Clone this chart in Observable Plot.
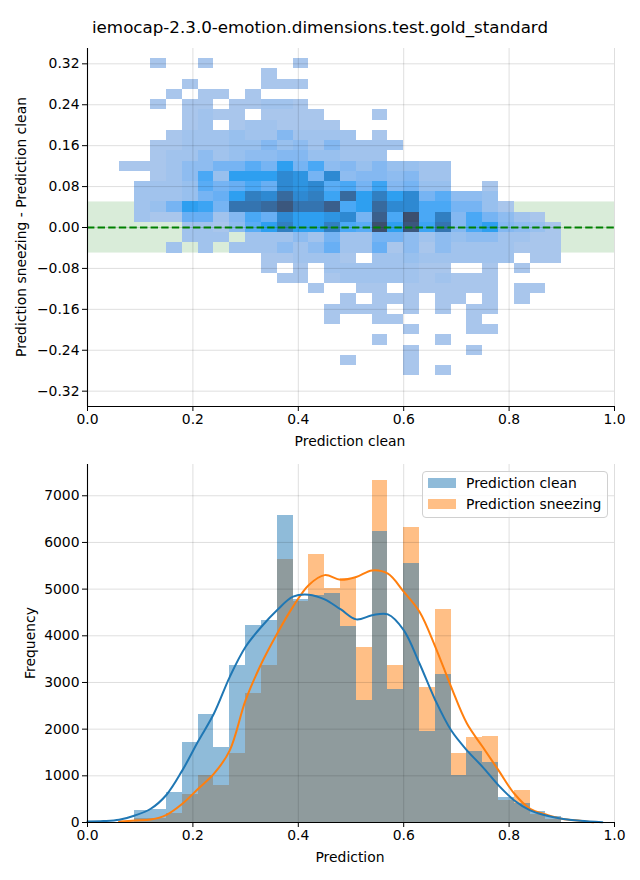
<!DOCTYPE html>
<html><head><meta charset="utf-8">
<script src="https://cdn.jsdelivr.net/npm/d3@7"></script>
<script src="https://cdn.jsdelivr.net/npm/@observablehq/plot@0.6"></script>
<style>
body{margin:0;background:#fff;font-family:"DejaVu Sans",sans-serif;}
#wrap{position:relative;width:640px;height:880px;overflow:hidden;}
.lbl{position:absolute;white-space:nowrap;color:#000;transform:translate(-50%,-50%);}
.legend{position:absolute;border:1px solid #d0d0d0;border-radius:4px;background:rgba(255,255,255,0.8);box-sizing:border-box;}
.legrow{position:absolute;left:5px;display:flex;align-items:center;font-size:13.9px;}
.patch{width:28px;height:10px;margin-right:10px;}
</style></head><body><div id="wrap"></div>
<script>
// ---------- data ----------
const title = "iemocap-2.3.0-emotion.dimensions.test.gold_standard";
const xTicks = [0, 0.2, 0.4, 0.6, 0.8, 1.0];
const diffTicks = [-0.32, -0.24, -0.16, -0.08, 0, 0.08, 0.16, 0.24, 0.32];
const freqTicks = [0, 1000, 2000, 3000, 4000, 5000, 6000, 7000];
const toleranceBand = [-0.05, 0.05];

// histogram bins (left edges), width 0.03
const binLeft = [0.06,0.09,0.12,0.15,0.18,0.21,0.24,0.27,0.30,0.33,0.36,0.39,0.42,0.45,
                 0.48,0.51,0.54,0.57,0.60,0.63,0.66,0.69,0.72,0.75,0.78,0.81,0.84,0.87];
// heatmap row centres (difference), height 0.02
const rowCenter = [0.32,0.30,0.28,0.26,0.24,0.22,0.20,0.18,0.16,0.14,0.12,0.10,0.08,0.06,0.04,0.02,0.00,
                   -0.02,-0.04,-0.06,-0.08,-0.10,-0.12,-0.14,-0.16,-0.18,-0.20,-0.22,-0.24,-0.26,-0.28];
// density level of each heatmap cell (0 = empty), rows top to bottom, columns = binLeft
const heatLevels = [
 [0,0,1,0,0,1,0,0,0,0,0,1,0,0,0,0,0,0,0,0,0,0,0,0,0,0,0,0],
 [0,0,0,0,0,0,0,0,0,1,0,0,0,0,0,0,0,0,0,0,0,0,0,0,0,0,0,0],
 [0,0,0,0,1,0,0,0,0,1,1,1,0,0,0,0,0,0,0,0,0,0,0,0,0,0,0,0],
 [0,0,0,1,0,1,1,0,1,0,0,0,0,0,0,0,0,0,0,0,0,0,0,0,0,0,0,0],
 [0,0,1,0,1,1,0,1,1,1.5,1.5,1,0,0,0,0,0,0,0,0,0,0,0,0,0,0,0,0],
 [0,0,0,0,1,1.5,1,1,0,1,1,1,1,0,0,0,1,0,0,0,0,0,0,0,0,0,0,0],
 [0,0,0,0,1,1.5,0,1,1.5,1.5,1,1,1,1,0,0,0,0,0,0,0,0,0,0,0,0,0,0],
 [0,0,0,1,1.5,1.5,1.5,2,1.5,1.5,3,1.5,1.5,1.5,1.5,0,1,0,0,0,0,0,0,0,0,0,0,0],
 [0,0,1,1,1.5,1.5,1.5,2,2,3,2,2.5,1.5,3,1.5,1.5,1.5,1.5,0,0,0,0,0,0,0,0,0,0],
 [0,0,1,1.5,1.5,2.5,1.5,2,2.5,2.5,3,3,2,2,1.5,1.5,1.5,0,0,0,0,0,0,0,0,0,0,0],
 [1,1,1,1.5,2.5,2.5,3.5,3.5,4.5,3.5,6,3.5,5,2.5,3,2,3,2,2,1.5,1.5,0,0,0,0,0,0,0],
 [0,0,1,1.5,2.5,5,2,6,6,6,7,6.5,3.5,7,2.5,3,3,2.5,3,1.5,1.5,0,0,0,0,0,0,0],
 [0,1.5,1.5,1.5,2,4.5,3.5,4,5,4,7,6.5,7,4.5,5,3.5,5.5,3,3.5,2,2,0,0,1,0,0,0,0],
 [0,1.5,1.5,1.5,2,3.5,4,6,7.5,7,8.5,7,7.5,5.5,8.5,6,7.5,6,7,3.5,4.5,2.5,2.5,2,0,0,0,0],
 [0,1.5,2,3.5,6,5.5,3.5,8,8,8.5,9.5,8,8,9,5,6,8.5,7,7,5,5,3.5,3.5,2,1,0,0,0],
 [0,1.5,1,1,4,4,1.5,3,5,4,7,6,6,6.5,7,3.5,9,5,10,5,7.5,3,5,3.5,2.5,1.5,1,0],
 [0,0,0,0,1.5,1.5,1,2.5,4.5,6,7.5,6,6,7.5,5,4.5,10,6,9.5,5.5,8,3,5,6,3,2.5,2,1],
 [0,0,0,0,1.5,1.5,1.5,0,1.5,1.5,1.5,2.5,1.5,3.5,1.5,1.5,3.5,3.5,2.5,1.5,2.5,2,2.5,2.5,1.5,1.5,1,1],
 [0,0,0,1.5,0,1.5,0,1.5,1.5,1.5,2.5,1.5,2.5,4,1.5,1.5,4,1,2.5,1,2.5,1.5,1.5,1.5,1.5,1,1,1],
 [0,0,0,0,0,0,0,0,0,1,1,1.5,1.5,1.5,1,0,1.5,1.5,2,1.5,1.5,1.5,1.5,1.5,1.5,0,1,1],
 [0,0,0,0,0,0,0,0,0,1,0,1,0,1.5,1.5,1.5,1.5,1.5,1.5,1,1,0,0,1,0,1,0,0],
 [0,0,0,0,0,0,0,0,0,0,1,1,0,1,1.5,1.5,1.5,1.5,1.5,1,1.5,1,1,1,0,0,0,0],
 [0,0,0,0,0,0,0,0,0,0,0,0,1,0,0,1,1,0,1,1,1,1,1,1,0,1,1,0],
 [0,0,0,0,0,0,0,0,0,0,0,0,0,0,1,0,1,1,1,0,1,1,0,1,0,1,0,0],
 [0,0,0,0,0,0,0,0,0,0,0,0,0,1,1,1,1,0,1,0,1,0,1,1,0,0,0,0],
 [0,0,0,0,0,0,0,0,0,0,0,0,0,1,0,0,1,1,0,0,0,0,1,0,0,0,0,0],
 [0,0,0,0,0,0,0,0,0,0,0,0,0,0,0,0,0,0,1,0,0,0,1,1,0,0,0,0],
 [0,0,0,0,0,0,0,0,0,0,0,0,0,0,0,0,1,0,0,0,1,0,0,0,0,0,0,0],
 [0,0,0,0,0,0,0,0,0,0,0,0,0,0,0,0,0,0,1,0,0,0,1,0,0,0,0,0],
 [0,0,0,0,0,0,0,0,0,0,0,0,0,0,1,0,0,0,1,0,0,0,0,0,0,0,0,0],
 [0,0,0,0,0,0,0,0,0,0,0,0,0,0,0,0,0,0,1,0,1,0,0,0,0,0,0,0]
];
const heatLevelDomain = [1,2,3,4,5,6,7,8,9,10];
const heatPalette = ["#a9c6ec","#98c0ee","#84b8f1","#68aff4","#4aa8f5","#2e9ff0","#2e89d2","#3474b0","#3a5f8c","#3c4f6e"];

// histogram counts per bin
const countClean   = [30,258,280,644,1718,2319,1610,3371,4230,4338,6571,4780,4874,4896,4194,2605,6234,2856,5540,1940,3178,1009,1525,1288,530,415,230,130];
const countSneeze  = [10,90,90,200,601,1002,795,1475,2770,3371,5633,4730,5733,5018,5233,3758,7322,3371,6313,2899,4574,1482,1825,1847,470,687,180,60];

// KDE curves (scaled to counts)
const kdeCleanX  = [0.0,0.03,0.06,0.09,0.12,0.15,0.18,0.21,0.24,0.27,0.30,0.33,0.36,0.39,0.42,0.45,0.48,0.51,0.54,0.57,0.60,0.63,0.66,0.69,0.72,0.75,0.78,0.81,0.84,0.87,0.90,0.935,0.977];
const kdeCleanY  = [20,30,58,150,294,595,1117,1739,2334,3121,3765,4194,4552,4838,4880,4780,4570,4352,4440,4460,4123,3407,2620,1975,1546,1188,795,472,258,150,79,35,5];
const kdeSneezeX = [0.06,0.09,0.12,0.15,0.18,0.21,0.24,0.27,0.30,0.33,0.36,0.39,0.42,0.45,0.48,0.51,0.54,0.57,0.60,0.63,0.66,0.69,0.72,0.75,0.78,0.81,0.84,0.87,0.90,0.935,0.96];
const kdeSneezeY = [20,43,64,165,401,723,1045,1546,2620,3407,4051,4624,5089,5300,5200,5260,5400,5330,4946,4516,3765,2906,2119,1617,1117,616,294,172,79,35,5];

const seriesNames = ["Prediction clean", "Prediction sneezing"];
const seriesColors = ["#1f77b4", "#ff7f0e"];

// ---------- build ----------
const BIN_W = 0.03, ROW_H = 0.02;
const cells = [];
heatLevels.forEach((row, r) => row.forEach((v, k) => {
  if (v > 0) cells.push({x1: binLeft[k], x2: binLeft[k] + BIN_W, y1: rowCenter[r] - ROW_H/2, y2: rowCenter[r] + ROW_H/2, v});
}));
const bins = binLeft.map((x, k) => ({x1: x, x2: x + BIN_W, clean: countClean[k], sneeze: countSneeze[k]}));
const kdeClean = kdeCleanX.map((x, i) => ({x, y: kdeCleanY[i]}));
const kdeSneeze = kdeSneezeX.map((x, i) => ({x, y: kdeSneezeY[i]}));

const fmtMinus = f => d => f(d).replace("-", "\u2212");
const font = {fontFamily: "DejaVu Sans", fontSize: "13.9px", background: "transparent", overflow: "visible"};
const gridStyle = {stroke: "#000", strokeOpacity: 0.13, strokeWidth: 1};

const wrap = document.getElementById("wrap");

const topPlot = Plot.plot({
  width: 640, height: 450,
  marginLeft: 87, marginRight: 26, marginTop: 48, marginBottom: 44,
  x: {domain: [0, 1]},
  y: {domain: [-0.35, 0.35]},
  color: {type: "linear", domain: heatLevelDomain, range: heatPalette},
  style: font,
  marks: [
    Plot.rect([toleranceBand], {x1: () => 0, x2: () => 1, y1: d => d[0], y2: d => d[1], fill: "#008000", fillOpacity: 0.15}),
    Plot.rect(cells, {x1: "x1", x2: "x2", y1: "y1", y2: "y2", fill: "v", shapeRendering: "crispEdges"}),
    Plot.gridX(xTicks, gridStyle),
    Plot.gridY(diffTicks, gridStyle),
    Plot.ruleY([0], {stroke: "#008000", strokeWidth: 2, strokeDasharray: "7.4,3.2"}),
    Plot.ruleX([0], {stroke: "#000", strokeWidth: 1.1}),
    Plot.ruleY([-0.35], {stroke: "#000", strokeWidth: 1.1}),
    Plot.axisX(xTicks, {tickSize: 5, tickPadding: 3, tickFormat: d3.format(".1f"), label: null}),
    Plot.axisY(diffTicks, {tickSize: 5, tickPadding: 3, tickFormat: fmtMinus(d3.format(".2f")), label: null})
  ]
});
topPlot.style.position = "absolute"; topPlot.style.left = "0px"; topPlot.style.top = "0px";
wrap.appendChild(topPlot);

const bottomPlot = Plot.plot({
  width: 640, height: 430,
  marginLeft: 87, marginRight: 26, marginTop: 14, marginBottom: 58,
  x: {domain: [0, 1]},
  y: {domain: [0, 7670]},
  style: font,
  marks: [
    Plot.rect(bins, {x1: "x1", x2: "x2", y1: () => 0, y2: "sneeze", fill: seriesColors[1], fillOpacity: 0.5, shapeRendering: "crispEdges"}),
    Plot.rect(bins, {x1: "x1", x2: "x2", y1: () => 0, y2: "clean", fill: seriesColors[0], fillOpacity: 0.5, shapeRendering: "crispEdges"}),
    Plot.gridX(xTicks, gridStyle),
    Plot.gridY(freqTicks, gridStyle),
    Plot.line(kdeSneeze, {x: "x", y: "y", stroke: seriesColors[1], strokeWidth: 2, curve: "catmull-rom"}),
    Plot.line(kdeClean, {x: "x", y: "y", stroke: seriesColors[0], strokeWidth: 2, curve: "catmull-rom"}),
    Plot.ruleX([0], {stroke: "#000", strokeWidth: 1.1}),
    Plot.ruleY([0], {stroke: "#000", strokeWidth: 1.1}),
    Plot.axisX(xTicks, {tickSize: 5, tickPadding: 3, tickFormat: d3.format(".1f"), label: null}),
    Plot.axisY(freqTicks, {tickSize: 5, tickPadding: 3, tickFormat: d3.format("d"), label: null})
  ]
});
bottomPlot.style.position = "absolute"; bottomPlot.style.left = "0px"; bottomPlot.style.top = "450px";
wrap.appendChild(bottomPlot);

function label(text, x, y, size, rotate) {
  const d = document.createElement("div");
  d.className = "lbl";
  d.textContent = text;
  d.style.left = x + "px"; d.style.top = y + "px"; d.style.fontSize = size + "px";
  if (rotate) d.style.transform = "translate(-50%,-50%) rotate(-90deg)";
  wrap.appendChild(d);
}
label(title, 320, 27, 16.7);
label("Prediction clean", 350, 441, 13.9);
label("Prediction sneezing - Prediction clean", 21, 227, 13.9, true);
label("Prediction", 350, 857, 13.9);
label("Frequency", 30, 643, 13.9, true);

// legend
const leg = document.createElement("div");
leg.className = "legend";
Object.assign(leg.style, {left: "422px", top: "471px", width: "186px", height: "47px"});
seriesNames.forEach((name, i) => {
  const row = document.createElement("div");
  row.className = "legrow";
  row.style.top = (3 + i * 21) + "px";
  const p = document.createElement("div");
  p.className = "patch";
  p.style.background = seriesColors[i]; p.style.opacity = 0.5;
  const t = document.createElement("span");
  t.textContent = name;
  row.appendChild(p); row.appendChild(t);
  leg.appendChild(row);
});
wrap.appendChild(leg);
</script></body></html>
